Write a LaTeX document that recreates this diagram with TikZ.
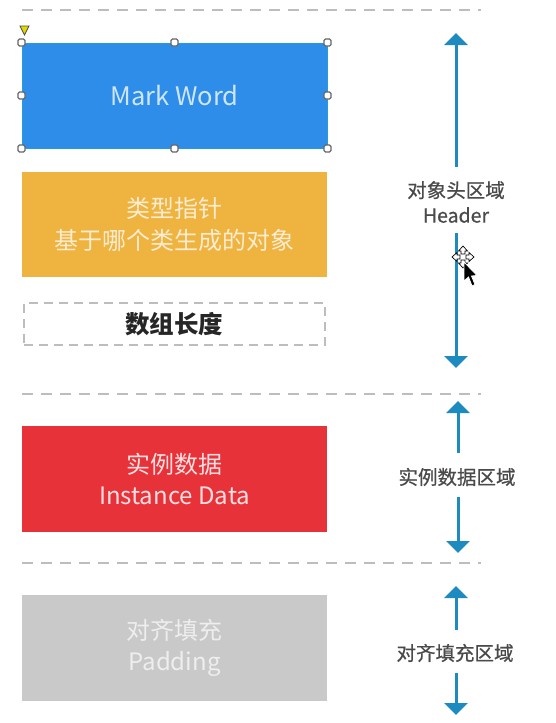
\documentclass[tikz,border=0pt]{standalone}
\usepackage{fontspec}
\setmainfont{Noto Sans CJK SC}
\newfontfamily\lblfont{Noto Sans CJK SC}[FakeBold=0.6]
\usetikzlibrary{arrows.meta}
\definecolor{mwblue}{HTML}{2E8DE8}
\definecolor{mwtext}{HTML}{CFE6FA}
\definecolor{ptrorange}{HTML}{EFB33F}
\definecolor{ptrtext}{HTML}{FBECD2}
\definecolor{instred}{HTML}{E8323A}
\definecolor{insttext}{HTML}{FCE0E1}
\definecolor{padgray}{HTML}{C9C9C9}
\definecolor{padtext}{HTML}{EEEEEE}
\definecolor{sepgray}{HTML}{BDBDBD}
\definecolor{arrblue}{HTML}{1D8BC0}
\definecolor{lbltext}{HTML}{4A4A4A}
\tikzset{
  x=1pt, y=-1pt,
  block/.style={minimum width=305pt, minimum height=105pt, inner sep=0pt, align=center,
    font=\fontsize{24}{30}\selectfont},
  sepline/.style={draw=sepgray, line width=2pt, dash pattern=on 11pt off 8pt},
  arr/.style={draw=arrblue, line width=3pt, -{Triangle[width=23pt,length=12pt]}},
  sidelbl/.style={text=lbltext, align=center, inner sep=0pt, font=\lblfont\fontsize{19.5}{25}\selectfont},
  handle/.style={draw=black!60, fill=white, line width=1.2pt, rounded corners=1.5pt,
    minimum size=7pt, inner sep=0pt}
}
\begin{document}
\begin{tikzpicture}
\useasboundingbox (0,0) rectangle (555,723);
\fill[white] (0,0) rectangle (555,723);

% separators
\coordinate (s1a) at (22,10);  \coordinate (s1b) at (481,10);
\coordinate (s2a) at (22,394); \coordinate (s2b) at (481,394);
\coordinate (s3a) at (22,563); \coordinate (s3b) at (481,563);
\draw[sepline] (s1a) -- (s1b);
\draw[sepline] (s2a) -- (s2b);
\draw[sepline] (s3a) -- (s3b);

% blocks
\node[block, fill=mwblue, text=mwtext, draw=cyan!60!mwblue, line width=1pt,
  font=\fontsize{25.5}{30}\selectfont] (mw) at (174.5,95.5) {Mark Word};
\node[block, fill=ptrorange, text=ptrtext] (ptr) at (174.5,224.5) {\raisebox{-4pt}{\shortstack{类型指针\\[6pt]基于哪个类生成的对象}}};
\node[block, minimum width=301pt, minimum height=42pt, draw=sepgray, line width=2pt,
  dash pattern=on 9pt off 6pt, text=black!85, font=\fontsize{24.5}{28}\selectfont\bfseries] (len) at (174,324) {数组长度};
\node[block, minimum height=106pt, fill=instred, text=insttext] (inst) at (174.5,479) {实例数据\\[1pt]Instance Data};
\node[block, minimum height=106pt, fill=padgray, text=padtext] (pad) at (174.5,648) {对齐填充\\[1pt]Padding};

% selection handles
\foreach \p/\n in {north west/a,north/b,north east/c,west/d,east/e,south west/f,south/g,south east/h}
  \node[handle] (hd\n) at (mw.\p) {};
\path[fill=yellow!75!olive, draw=black!70, line width=0.8pt] (20,26) -- (29,26) -- (24.5,35) -- cycle;

% side labels
\node[sidelbl] (hdr) at (456,202) {对象头区域\\Header};
\node[sidelbl] (instl) at (457,477) {实例数据区域};
\node[sidelbl] (padl) at (455,653) {对齐填充区域};

\coordinate (h1) at (456,167); \coordinate (htop) at (456,33);
\coordinate (h2) at (456,233); \coordinate (hbot) at (456,368);
\draw[arr] (h1) -- (htop);
\draw[arr] (h2) -- (hbot);

\coordinate (i1) at (458,453); \coordinate (itop) at (458,401);
\coordinate (i2) at (458,497); \coordinate (ibot) at (458,553);
\draw[arr] (i1) -- (itop);
\draw[arr] (i2) -- (ibot);

\coordinate (p1) at (456,630); \coordinate (ptop) at (456,586);
\coordinate (p2) at (456,673); \coordinate (pbot) at (456,715);
\draw[arr] (p1) -- (ptop);
\draw[arr] (p2) -- (pbot);

% mouse cursor (move icon + pointer)
\begin{scope}[shift={(463,257)}]
  \foreach \r in {0,90,180,270}
    \path[rotate=\r, fill=white, draw=black, line width=0.7pt]
      (-2,-3) -- (-2,-6) -- (-4.5,-6) -- (0,-11) -- (4.5,-6) -- (2,-6) -- (2,-3) -- cycle;
\end{scope}
\path[fill=black, draw=white, line width=0.8pt]
  (464,262) -- (464,281) -- (468.5,277) -- (472,286) -- (475,284.5) -- (471.5,276) -- (477,275.5) -- cycle;
\end{tikzpicture}
\end{document}
